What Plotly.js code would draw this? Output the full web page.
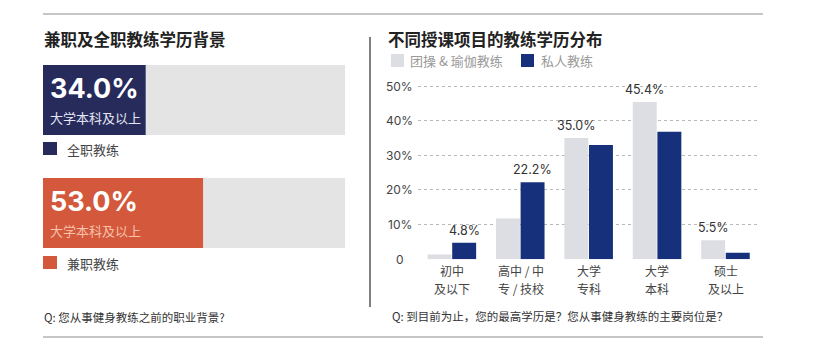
<!DOCTYPE html>
<html><head><meta charset="utf-8">
<script src="https://cdn.plot.ly/plotly-3.0.1.min.js"></script>
<style>html,body{margin:0;padding:0;background:#fff}#chart{width:828px;height:359px}</style>
</head><body><div id="chart"></div>
<script>
// ---- data: left panel ----
const leftTitle = '兼职及全职教练学历背景';
const leftSeries = ['全职教练', '兼职教练'];
const leftValues = [34.0, 53.0];
const leftTotals = [100, 100];
const leftSubLabel = '大学本科及以上';
const leftQuestion = 'Q: 您从事健身教练之前的职业背景?';

// ---- data: right panel ----
const rightTitle = '不同授课项目的教练学历分布';
const categoryLine1 = ['初中', '高中 / 中', '大学', '大学', '硕士'];
const categoryLine2 = ['及以下', '专 / 技校', '专科', '本科', '及以上'];
const seriesNames = ['团操 & 瑜伽教练', '私人教练'];
const groupValues = [1.4, 11.8, 35.0, 45.4, 5.5];
const privateValues = [4.8, 22.2, 33.0, 36.8, 1.9];
const labelledSeries = [1, 1, 0, 0, 0];
const yTicks = [0, 10, 20, 30, 40, 50];
const yTickText = ['0', '10%', '20%', '30%', '40%', '50%'];
const rightQuestion = 'Q: 到目前为止，您的最高学历是？您从事健身教练的主要岗位是？';

// ---- styles ----
const W = 828, H = 359;
const fx = p => p / W;
const fy = p => 1 - p / H;
const CJK = '"Noto Sans CJK SC", "Noto Sans", sans-serif';
const NUM = 'Inter, "Noto Sans CJK SC", sans-serif';
const leftColors = ['#262b5c', '#d3583c'];
const subColors = ['#e4e6f3', '#f6c2aa'];
const grayBar = '#dcdee3';
const navyBar = '#17307b';

const idx = categoryLine1.map((c, i) => i);

const traces = [
  { type: 'bar', orientation: 'h', x: leftTotals, y: [0, 1], xaxis: 'x2', yaxis: 'y2',
    width: 0.62, offset: -0.31, marker: { color: '#e4e4e4' }, hoverinfo: 'skip' },
  { type: 'bar', orientation: 'h', x: leftValues, y: [0, 1], xaxis: 'x2', yaxis: 'y2',
    width: 0.62, offset: -0.31, marker: { color: leftColors }, hoverinfo: 'skip' },
  { type: 'bar', name: seriesNames[0], x: idx, y: groupValues, width: 0.35, offset: -0.36,
    marker: { color: grayBar }, hoverinfo: 'skip' },
  { type: 'bar', name: seriesNames[1], x: idx, y: privateValues, width: 0.35, offset: 0.0,
    marker: { color: navyBar }, hoverinfo: 'skip' }
];

const ann = [];
const A = (o) => ann.push(Object.assign({ showarrow: false, xref: 'paper', yref: 'paper',
  xanchor: 'left', yanchor: 'middle' }, o));

A({ x: fx(42), y: fy(39), text: '<b>' + leftTitle + '</b>', font: { family: CJK, size: 16.5, color: '#222' } });
A({ x: fx(386), y: fy(39), text: '<b>' + rightTitle + '</b>', font: { family: CJK, size: 16.5, color: '#222' } });

leftValues.forEach((v, i) => {
  A({ xref: 'x2', yref: 'y2', x: 0, y: i, xshift: 5, yshift: 12, text: '<b>' + v.toFixed(1) + '%</b>',
      font: { family: NUM, size: 27, color: '#ffffff' } });
  A({ xref: 'x2', yref: 'y2', x: 0, y: i, xshift: 5, yshift: -17, text: leftSubLabel,
      font: { family: CJK, size: 13, color: subColors[i] } });
});
A({ x: fx(65), y: fy(149.5), text: leftSeries[0], font: { family: CJK, size: 13, color: '#444' } });
A({ x: fx(65), y: fy(263), text: leftSeries[1], font: { family: CJK, size: 13, color: '#444' } });
A({ x: fx(42), y: fy(317), text: leftQuestion, font: { family: CJK, size: 11.5, color: '#333' } });
A({ x: fx(390), y: fy(316), text: rightQuestion, font: { family: CJK, size: 11.5, color: '#333' } });
A({ x: fx(408), y: fy(61), text: seriesNames[0], font: { family: CJK, size: 13, color: '#9a9a9a' } });
A({ x: fx(539), y: fy(61), text: seriesNames[1], font: { family: CJK, size: 13, color: '#9a9a9a' } });
yTicks.forEach((t, i) => {
  A({ x: fx(399.5), xanchor: 'center', yref: 'y', y: t, text: yTickText[i],
      font: { family: NUM, size: 12, color: '#444' } });
});
// category labels (two lines each)
idx.forEach(i => {
  A({ xref: 'x', x: i, xanchor: 'center', y: fy(270.5), text: categoryLine1[i], borderpad: 0,
      font: { family: CJK, size: 12, color: '#444' } });
  A({ xref: 'x', x: i, xanchor: 'center', y: fy(288.5), text: categoryLine2[i], borderpad: 0,
      font: { family: CJK, size: 12, color: '#444' } });
});
// value labels on the labelled bar of each category
idx.forEach(i => {
  const s = labelledSeries[i];
  const v = s === 0 ? groupValues[i] : privateValues[i];
  const xc = s === 0 ? i - 0.36 + 0.175 : i + 0.175;
  A({ xref: 'x', yref: 'y', x: xc, y: v, xanchor: 'center', yanchor: 'bottom', yshift: 3,
      text: v.toFixed(1) + '%', font: { family: NUM, size: 12.5, color: '#333' } });
});

const shapes = [
  { type: 'line', xref: 'paper', yref: 'paper', x0: fx(43), x1: fx(763), y0: fy(14), y1: fy(14), line: { color: '#b3b3b3', width: 1.5 } },
  { type: 'line', xref: 'paper', yref: 'paper', x0: fx(43), x1: fx(763), y0: fy(337), y1: fy(337), line: { color: '#b3b3b3', width: 1.5 } },
  { type: 'line', xref: 'paper', yref: 'paper', x0: fx(370), x1: fx(370), y0: fy(37), y1: fy(307), line: { color: '#555', width: 1.5 } },
  { type: 'rect', xref: 'paper', yref: 'paper', x0: fx(43), x1: fx(57), y0: fy(155), y1: fy(142), fillcolor: leftColors[0], line: { width: 0 } },
  { type: 'rect', xref: 'paper', yref: 'paper', x0: fx(43), x1: fx(57), y0: fy(269), y1: fy(256), fillcolor: leftColors[1], line: { width: 0 } },
  { type: 'rect', xref: 'paper', yref: 'paper', x0: fx(391), x1: fx(404), y0: fy(67), y1: fy(54), fillcolor: grayBar, line: { width: 0 } },
  { type: 'rect', xref: 'paper', yref: 'paper', x0: fx(521), x1: fx(534), y0: fy(67), y1: fy(54), fillcolor: navyBar, line: { width: 0 } }
];

const layout = {
  width: W, height: H, margin: { l: 0, r: 0, t: 0, b: 0 },
  paper_bgcolor: '#fff', plot_bgcolor: 'rgba(0,0,0,0)',
  showlegend: false, barmode: 'overlay',
  xaxis: { domain: [fx(418), fx(760)], range: [-0.5, 4.5], showticklabels: false,
    showgrid: false, zeroline: false, showline: false, ticks: '', fixedrange: true, anchor: 'y' },
  yaxis: { domain: [fy(259.3), fy(79.1)], range: [0, 52], tickvals: yTicks, showticklabels: false,
    showgrid: true, gridcolor: '#b8b8b8', griddash: 'dot', gridwidth: 1, zeroline: false, showline: false,
    fixedrange: true, anchor: 'x' },
  xaxis2: { domain: [fx(43), fx(345)], range: [0, 100], visible: false, anchor: 'y2', fixedrange: true },
  yaxis2: { domain: [fy(280.8), fy(32.2)], range: [1.6, -0.6], visible: false, anchor: 'x2', fixedrange: true },
  annotations: ann, shapes: shapes
};

Plotly.newPlot('chart', traces, layout, { displayModeBar: false, staticPlot: true });
</script>
</body></html>
